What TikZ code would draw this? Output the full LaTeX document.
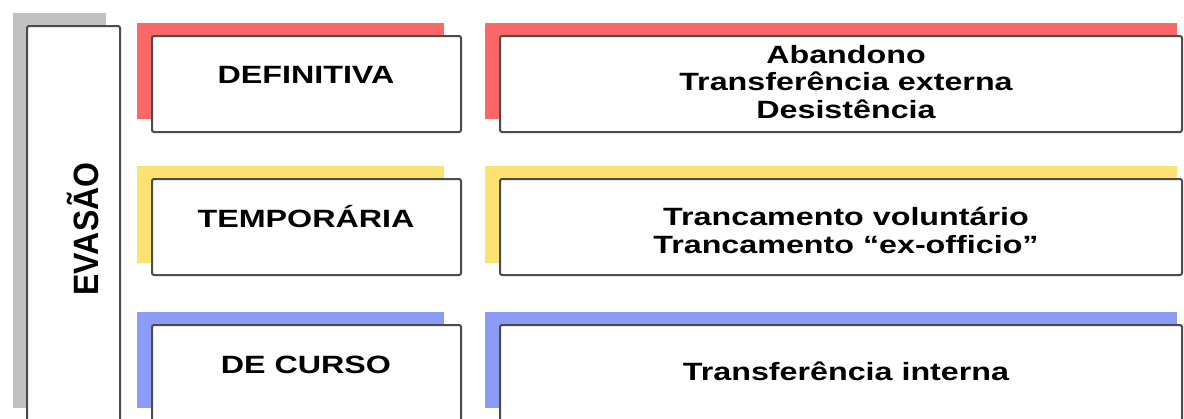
\documentclass[tikz,border=0pt]{standalone}
\usepackage{fontspec}
\setmainfont{Liberation Sans}[FakeStretch=1.29]
\newfontfamily\sidefont{Liberation Sans}
\definecolor{framegray}{RGB}{75,75,75}
\definecolor{shadowgray}{RGB}{192,192,192}
\definecolor{shadowred}{RGB}{250,104,104}
\definecolor{shadowyellow}{RGB}{250,226,115}
\definecolor{shadowblue}{RGB}{138,156,245}
\tikzset{
  frame/.style={draw=framegray, line width=2pt, fill=white, rounded corners=2pt,
    inner sep=0pt, outer sep=0pt, anchor=north west},
  leftbox/.style={frame, minimum width=309pt, minimum height=96pt},
  rightbox/.style={frame, minimum width=682pt, minimum height=96pt},
  label/.style={font=\fontsize{25}{27.5}\selectfont\bfseries, align=center,
    anchor=base, inner sep=0pt},
}
\begin{document}
\begin{tikzpicture}[x=1pt, y=-1pt]
  \useasboundingbox (0,0) rectangle (1184,418);
  \clip (0,0) rectangle (1184,418);

  % coloured backing bands behind each frame
  \fill[shadowgray]   (13,13)   rectangle (106,408);
  \fill[shadowred]    (137,23)  rectangle (444,119);
  \fill[shadowred]    (485,23)  rectangle (1177,119);
  \fill[shadowyellow] (137,166) rectangle (444,263);
  \fill[shadowyellow] (485,166) rectangle (1177,263);
  \fill[shadowblue]   (137,312) rectangle (444,408);
  \fill[shadowblue]   (485,312) rectangle (1177,408);

  % frames
  \node[frame, minimum width=93pt, minimum height=395pt] (evasao) at (27,26) {};
  \node[leftbox]  (defbox)  at (152,36)  {};
  \node[rightbox] (defdesc) at (500,36)  {};
  \node[leftbox]  (tempbox) at (152,179) {};
  \node[rightbox] (tempdesc) at (500,179) {};
  \node[leftbox]  (curbox)  at (152,325) {};
  \node[rightbox] (curdesc) at (500,325) {};

  % texts (multi-line nodes sit on the baseline of their last line)
  \node[rotate=90, anchor=base, inner sep=0pt,
        font=\sidefont\fontsize{32}{32}\selectfont\bfseries] (evasaoT) at (98,229)
        {\scalebox{1}[1.1]{EVASÃO}};
  \node[label] (defT)   at (306,83)  {DEFINITIVA};
  \node[label] (tempT)  at (306,227) {TEMPORÁRIA};
  \node[label] (curT)   at (306,373) {DE CURSO};
  \node[label] (defD)   at (846,118) {Abandono\\Transferência externa\\Desistência};
  \node[label] (tempD)  at (846,253) {Trancamento voluntário\\Trancamento “ex-officio”};
  \node[label] (curD)   at (846,380) {Transferência interna};
\end{tikzpicture}
\end{document}
